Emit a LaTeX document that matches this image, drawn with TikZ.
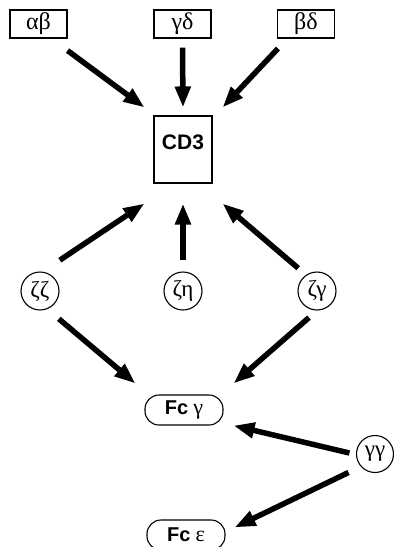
\documentclass[tikz,border=0pt]{standalone}
\usepackage{fontspec}
\setmainfont{Liberation Serif}
\setsansfont{Liberation Sans}
\usetikzlibrary{arrows.meta}
\begin{document}
\begin{tikzpicture}[x=1pt,y=-1pt,
  sqbox/.style={draw,line width=1.1pt,minimum width=57pt,minimum height=28pt,inner sep=0pt,font=\fontsize{24}{26}\selectfont},
  bigbox/.style={draw,line width=1.1pt,minimum width=58pt,minimum height=67pt,inner sep=0pt,font=\sffamily\bfseries\fontsize{21}{23}\selectfont,text depth=0pt},
  circ/.style={draw,circle,line width=1.1pt,minimum size=38pt,inner sep=0pt,font=\fontsize{23}{25}\selectfont},
  pill/.style={draw,line width=1.1pt,rounded corners=14pt,minimum width=78pt,minimum height=30pt,inner sep=0pt,font=\fontsize{20}{22}\selectfont},
  arr/.style={line width=5.5pt,-{Triangle[length=21pt,width=15pt]}}]
\useasboundingbox (0,0) rectangle (394,547);
\clip (0,0) rectangle (394,547);
\node[sqbox] (ab) at (38.5,24) {αβ};
\node[sqbox] (gd) at (182.5,24) {γδ};
\node[sqbox] (bd) at (306,24) {βδ};
\node[bigbox] (cd) at (183,149.5) {\raisebox{14pt}{CD3}};
\node[circ] (zz) at (40,291) {ζζ};
\node[circ] (ze) at (183,291) {ζη};
\node[circ] (zg) at (317,291) {ζγ};
\node[pill] (fg) at (184,410) {{\sffamily\bfseries Fc} {\fontsize{22}{24}\selectfont γ}};
\node[pill] (fe) at (186,535) {{\sffamily\bfseries Fc} {\fontsize{22}{24}\selectfont ε}};
\node[circ,minimum size=37pt] (gg) at (375,454) {γγ};
\draw[arr] ([shift={(0,12)}]ab.south east) -- ([shift={(-9,-8)}]cd.north west);
\draw[arr] ([shift={(0,9)}]gd.south) -- ([shift={(0,-8)}]cd.north);
\draw[arr] ([shift={(1,10)}]bd.south west) -- ([shift={(10,-8)}]cd.north east);
\draw[arr] ([shift={(6,-17)}]zz.north east) -- ([shift={(-9,20)}]cd.south west);
\draw[arr] ([shift={(0,-11)}]ze.north) -- ([shift={(0,20)}]cd.south);
\draw[arr] ([shift={(-5,-9)}]zg.north west) -- ([shift={(10,20)}]cd.south east);
\draw[arr] ([shift={(5,14)}]zz.south east) -- ([shift={(-9,-11)}]fg.north west);
\draw[arr] ([shift={(-8,7)}]zg.south) -- ([shift={(10,-11)}]fg.north east);
\draw[arr] ([shift={(-6.5,-1)}]gg.west) -- ([shift={(10,0)}]fg.south east);
\draw[arr] ([shift={(-13,5)}]gg.south west) -- ([shift={(9,8)}]fe.north east);
\end{tikzpicture}
\end{document}
